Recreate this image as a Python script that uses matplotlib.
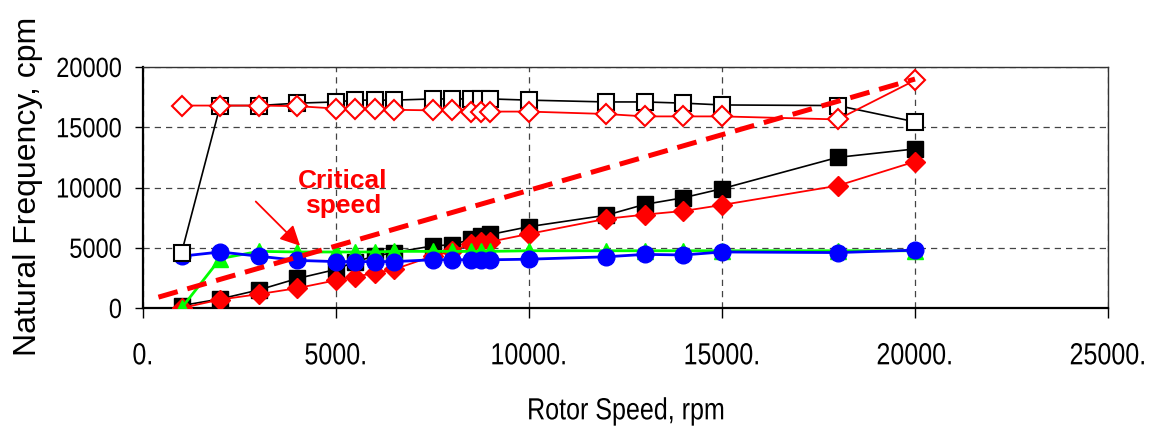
import matplotlib
matplotlib.use("Agg")
import matplotlib.pyplot as plt
from matplotlib.patheffects import AbstractPathEffect
from matplotlib.transforms import Affine2D

font = "Liberation Sans"


class Condense(AbstractPathEffect):
    # squeeze text horizontally, like the narrow Arial of the original
    def __init__(self, sx, anchor="center"):
        super().__init__()
        self.sx = sx
        self.anchor = anchor

    def draw_path(self, renderer, gc, tpath, affine, rgbFace=None):
        bb = tpath.get_extents(affine)
        cx = bb.x1 if self.anchor == "right" else (bb.x0 + bb.x1) / 2
        a = affine + Affine2D().translate(-cx, 0).scale(self.sx, 1).translate(cx, 0)
        renderer.draw_path(gc, tpath, a, rgbFace)


speed = [1000, 2000, 3000, 4000, 5000, 5500, 6000, 6500, 7500, 8000,
         8500, 8750, 9000, 10000, 12000, 13000, 14000, 15000, 18000, 20000]

open_sq = [4600, 16800, 16800, 17000, 17100, 17250, 17250, 17250, 17350, 17350,
           17350, 17350, 17350, 17250, 17100, 17100, 17000, 16850, 16800, 15450]
open_dia = [16800, 16800, 16800, 16750, 16550, 16550, 16550, 16450, 16400, 16400,
            16300, 16300, 16300, 16300, 16100, 15900, 15900, 15900, 15650, 18900]
fill_sq = [200, 750, 1500, 2450, 3200, 3850, 4300, 4600, 5150, 5250,
           5700, 5950, 6100, 6750, 7700, 8600, 9150, 9900, 12500, 13200]
fill_dia = [0, 700, 1150, 1650, 2300, 2600, 2900, 3200, 4300, 4700,
            5350, 5450, 5500, 6150, 7400, 7750, 8050, 8550, 10150, 12150]
tri = [0, 4100, 4700, 4650, 4650, 4650, 4650, 4700, 4700, 4700,
       4700, 4700, 4700, 4750, 4750, 4750, 4750, 4750, 4750, 4750]
circ = [4300, 4650, 4300, 3950, 3850, 3850, 3850, 3850, 4000, 4000,
        4000, 4000, 4000, 4050, 4250, 4450, 4400, 4650, 4600, 4800]

crit_x = [400, 20000]
crit_y = [900, 19000]

x_ticks = [0, 5000, 10000, 15000, 20000, 25000]
x_labels = ["0.", "5000.", "10000.", "15000.", "20000.", "25000."]
y_ticks = [0, 5000, 10000, 15000, 20000]

fig = plt.figure(figsize=(11.59, 4.37), dpi=100)
ax = fig.add_axes([143 / 1159, 1 - 308 / 437, 965 / 1159, 241 / 437])

ax.plot(speed, fill_sq, color="black", lw=1.2, marker="s", ms=12,
        mfc="black", mec="black", zorder=3)
ax.plot(speed, fill_dia, color="red", lw=1.3, marker="D", ms=10,
        mfc="red", mec="red", zorder=4)
ax.plot(speed, tri, color="#00ff00", lw=2, marker="^", ms=11.5,
        mfc="#00ff00", mec="#00ff00", zorder=5)
ax.plot(speed, circ, color="#0000ff", lw=2, marker="o", ms=12,
        mfc="#0000ff", mec="#0000ff", zorder=6)
ax.plot(speed, open_sq, color="black", lw=1.2, marker="s", ms=12,
        mfc="white", mec="black", mew=1.5, zorder=7)
ax.plot(speed, open_dia, color="red", lw=1.3, marker="D", ms=10,
        mfc="white", mec="red", mew=1.5, zorder=8)
ax.plot(crit_x, crit_y, color="red", lw=3.6, dashes=(4, 2), zorder=9)

ax.text(5180, 9500, "Critical\nspeed", color="red", fontsize=19,
        fontweight="bold", family=font, ha="center", va="center",
        linespacing=1.1, zorder=10)
ax.annotate("", xy=(4120, 5000), xytext=(2870, 9000),
            arrowprops=dict(arrowstyle="-|>,head_length=1.2,head_width=0.6",
                            color="red", lw=1.3), zorder=10)

ax.set_xlim(0, 25000)
ax.set_ylim(0, 20000)
ax.set_xticks(x_ticks)
ax.set_xticklabels(x_labels, family=font, fontsize=22,
                   path_effects=[Condense(0.82)])
ax.set_yticks(y_ticks)
ax.set_yticklabels([str(v) for v in y_ticks], family=font, fontsize=20,
                   path_effects=[Condense(0.85, "right")])
ax.tick_params(axis="x", direction="out", length=7, width=1, pad=17)
ax.tick_params(axis="y", direction="out", length=6, width=1, pad=9)

ax.grid(True, color="#444444", lw=0.9, dashes=(5, 4))
ax.set_axisbelow(True)
for s in ["left", "bottom"]:
    ax.spines[s].set_linewidth(1.6)
    ax.spines[s].set_color("black")
for s in ["top", "right"]:
    ax.spines[s].set_linewidth(1.0)
    ax.spines[s].set_color("#333333")

ax.set_xlabel("Rotor Speed, rpm", family=font, fontsize=22, labelpad=18,
              path_effects=[Condense(0.82)])
fig.text(28 / 1159, 1 - 186 / 437, "Natural Frequency, cpm", family=font,
         fontsize=23, rotation=90, ha="center", va="center")

fig.savefig("out.png", dpi=100)
